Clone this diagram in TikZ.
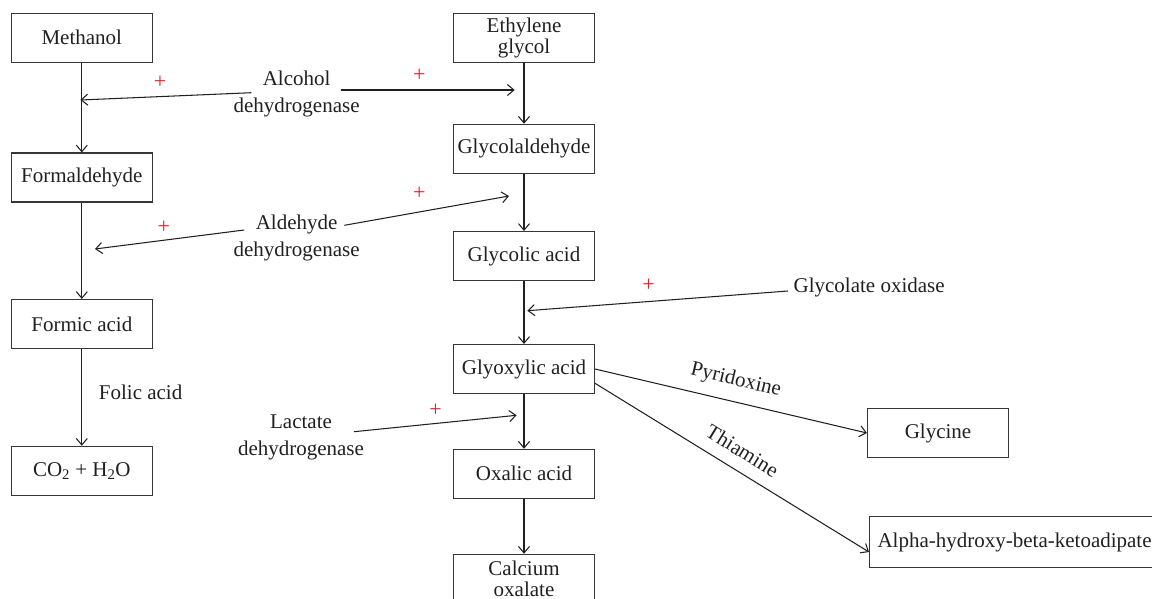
\documentclass[tikz,border=0pt]{standalone}
\usepackage{fontspec}
\setmainfont{Liberation Serif}
\usetikzlibrary{arrows.meta}
\definecolor{ink}{HTML}{231F20}
\definecolor{plusred}{HTML}{ED1C24}
\tikzset{
	box/.style={draw=ink!90, line width=1.1pt, minimum width=141pt, minimum height=49pt,
		inner sep=2pt, align=center, text=ink, font=\fontsize{21}{20.7}\selectfont},
	lbl/.style={inner sep=0pt, align=center, text=ink, font=\fontsize{21}{26.5}\selectfont},
	flow/.style={draw=ink, line width=1.05pt, -{Straight Barb[length=6.5pt,width=11pt]}},
	plus/.style={inner sep=0pt, text=plusred, font=\fontsize{22}{22}\selectfont},
}
\begin{document}
\begin{tikzpicture}[x=1pt,y=-1pt]
	\useasboundingbox (0,0) rectangle (1152,598);
	% methanol branch
	\node[box] (meth) at (81.8,37.8) {Methanol};
	\node[box] (form) at (81.8,177.5) {Formaldehyde};
	\node[box] (formic) at (81.8,324) {Formic acid};
	\node[box] (co2) at (81.8,470.8) {CO\textsubscript{2} + H\textsubscript{2}O};
	\draw[flow] (meth) -- (form);
	\draw[flow] (form) -- (formic);
	\draw[flow] (formic) -- (co2);
	\node[lbl, anchor=west] (folic) at (98.7,392.7) {Folic acid};
	% ethylene glycol branch
	\node[box] (eg) at (524,37.8) {Ethylene\\glycol};
	\node[box] (gald) at (524,148.8) {Glycolaldehyde};
	\node[box] (gacid) at (524,256) {Glycolic acid};
	\node[box] (glyox) at (524,369) {Glyoxylic acid};
	\node[box] (oxal) at (524,473.8) {Oxalic acid};
	\node[box] (caox) at (524,578.8) {Calcium\\oxalate};
	\node[box] (gly) at (938,433) {Glycine};
	\node[box, anchor=west, inner xsep=8pt, minimum height=51pt] (ahk) at (869,542) {Alpha-hydroxy-beta-ketoadipate};
	\draw[flow] (eg) -- (gald);
	\draw[flow] (gald) -- (gacid);
	\draw[flow] (gacid) -- (glyox);
	\draw[flow] (glyox) -- (oxal);
	\draw[flow] (oxal) -- (caox);
	\draw[flow] (glyox.east) -- (gly.west) node[lbl, midway, sloped, above=11pt] (pyr) {Pyridoxine};
	\draw[flow] ([yshift=-14.3pt]glyox.east) -- ([yshift=-10pt]ahk.west) node[lbl, midway, sloped, above=12pt] (thi) {Thiamine};
	% enzymes
	\node[lbl] (alcdh) at (296.6,94) {Alcohol\\dehydrogenase};
	\node[lbl] (aldh) at (296.6,237.8) {Aldehyde\\dehydrogenase};
	\node[lbl] (ldh) at (301,437.2) {Lactate\\dehydrogenase};
	\node[lbl, anchor=west] (gox) at (793.4,287.7) {Glycolate oxidase};
	\coordinate (alcA) at (251.4,92.7);
	\coordinate (alcB) at (340.6,90);
	\coordinate (alcL) at (80.4,100);
	\coordinate (alcR) at (514.7,90);
	\coordinate (aldA) at (244.2,230);
	\coordinate (aldB) at (344.4,225.3);
	\coordinate (aldL) at (94.9,249);
	\coordinate (aldR) at (509,196);
	\coordinate (goxA) at (788,291);
	\coordinate (goxR) at (527.3,310.7);
	\coordinate (ldhA) at (354,431.7);
	\coordinate (ldhR) at (516.6,415.3);
	\draw[flow] (alcA) -- (alcL);
	\draw[flow] (alcB) -- (alcR);
	\draw[flow] (aldA) -- (aldL);
	\draw[flow] (aldB) -- (aldR);
	\draw[flow] (goxA) -- (goxR);
	\draw[flow] (ldhA) -- (ldhR);
	\node[plus] (p1) at (160,82.7) {+};
	\node[plus] (p2) at (419.4,75) {+};
	\node[plus] (p3) at (163.8,227.3) {+};
	\node[plus] (p4) at (419.4,193.3) {+};
	\node[plus] (p5) at (648.6,285.7) {+};
	\node[plus] (p6) at (435.5,410.7) {+};
\end{tikzpicture}
\end{document}
